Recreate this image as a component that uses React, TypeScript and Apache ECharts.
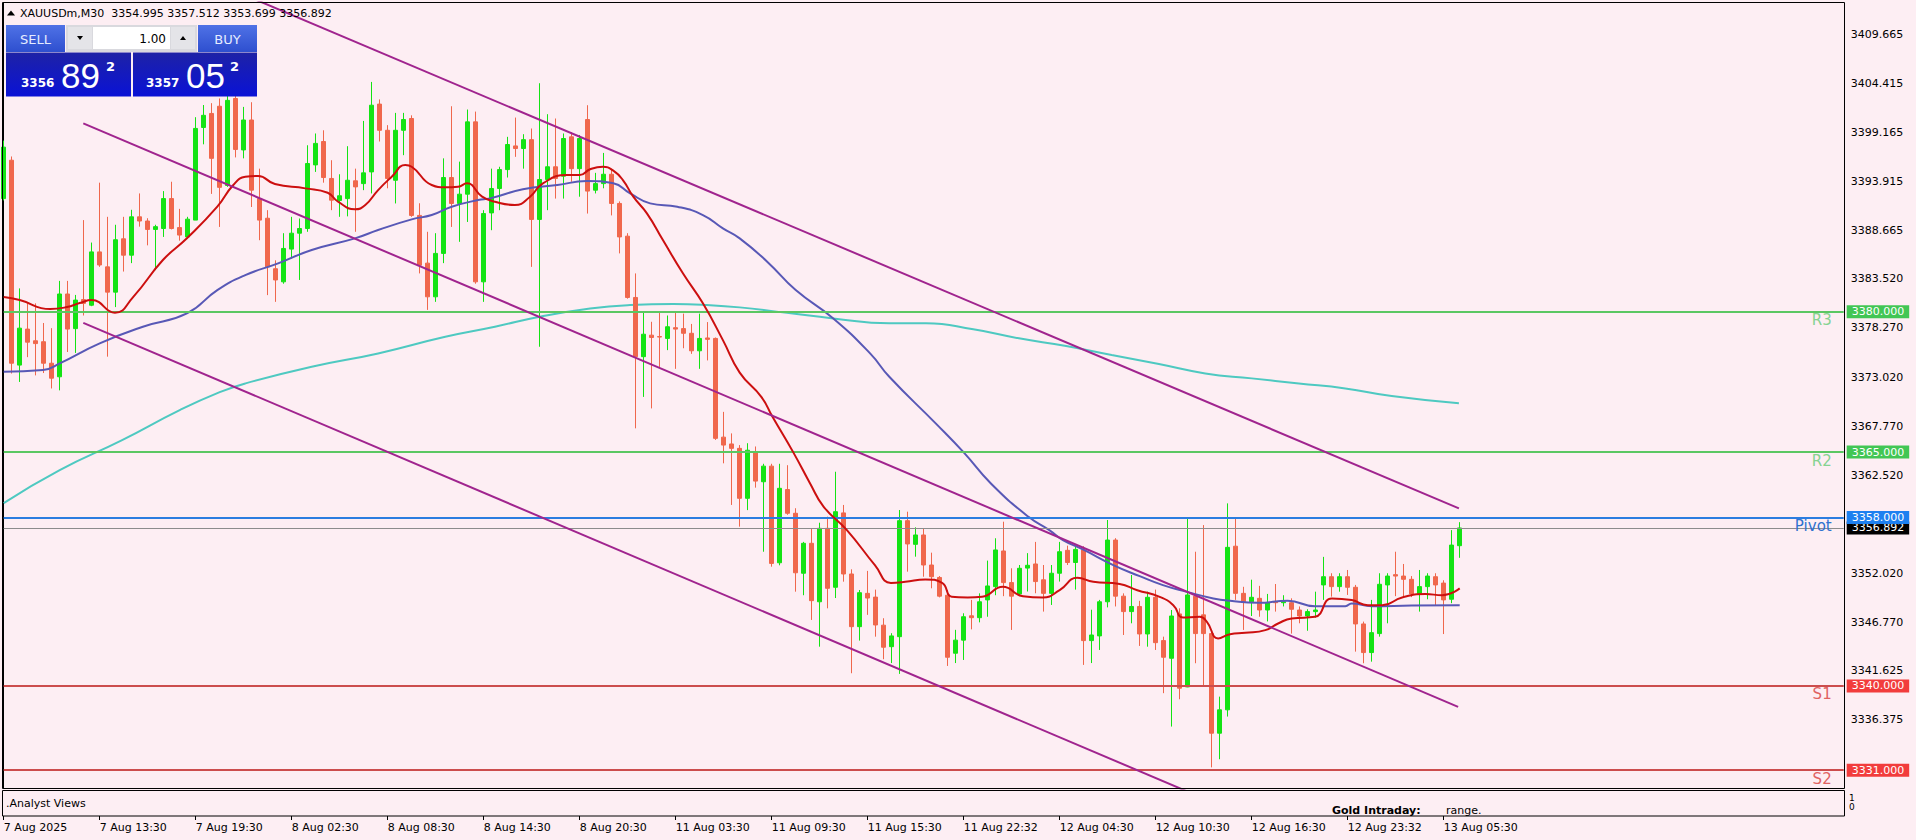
import React, { useEffect, useRef } from "react";
import * as echarts from "echarts";

// ---------- data ----------
const timeLabels = [
  "7 Aug 2025", "7 Aug 13:30", "7 Aug 19:30", "8 Aug 02:30", "8 Aug 08:30", "8 Aug 14:30",
  "8 Aug 20:30", "11 Aug 03:30", "11 Aug 09:30", "11 Aug 15:30", "11 Aug 22:32", "12 Aug 04:30",
  "12 Aug 10:30", "12 Aug 16:30", "12 Aug 23:32", "13 Aug 05:30",
];
const BARS_PER_LABEL = 12;
const TOTAL_SLOTS = 231;

const opens = [
  3392.1, 3396.2, 3374.3, 3378.15, 3376.9, 3376.8, 3374.5, 3373.05, 3381.9, 3378.2,
  3381.3, 3380.7, 3386.4, 3384.8, 3382.1, 3387.8, 3386.05, 3390.15, 3389.7, 3388.8,
  3388.9, 3392.1, 3389.0, 3388.0, 3389.8, 3399.7, 3401.2, 3401.97, 3393.5, 3402.8,
  3397.3, 3400.5, 3392.1, 3390.0, 3384.6, 3383.2, 3386.7, 3388.4, 3388.9, 3395.7,
  3398.2, 3394.25, 3391.9, 3392.1, 3394.0, 3393.7, 3394.95, 3402.2, 3399.4, 3394.06,
  3399.4, 3400.66, 3390.3, 3385.2, 3381.6, 3386.24, 3394.35, 3391.58, 3392.57, 3400.3,
  3383.2, 3390.57, 3393.18, 3395.2, 3397.73, 3397.45, 3398.4, 3389.87, 3394.14, 3395.5,
  3394.5, 3398.7, 3395.3, 3400.55, 3393.0, 3393.7, 3394.7, 3391.58, 3388.08, 3381.53,
  3375.2, 3377.5, 3377.35, 3377.15, 3378.3, 3378.2, 3377.7, 3375.83, 3377.2, 3377.15,
  3366.6, 3365.87, 3365.4, 3360.06, 3364.9, 3361.83, 3363.5, 3353.17, 3361.0, 3358.46,
  3352.05, 3355.25, 3349.0, 3356.85, 3350.55, 3358.5, 3351.97, 3346.34, 3349.9, 3349.5,
  3346.5, 3344.2, 3345.27, 3357.67, 3355.14, 3356.14, 3352.93, 3351.6, 3349.7, 3343.5,
  3344.9, 3347.5, 3347.3, 3349.2, 3350.62, 3354.43, 3351.05, 3349.84, 3352.6, 3353.04,
  3351.35, 3349.9, 3352.05, 3354.5, 3353.2, 3354.54, 3344.85, 3345.35, 3349.0, 3355.6,
  3349.6, 3347.95, 3348.5, 3345.56, 3349.48, 3344.85, 3342.96, 3347.7, 3339.9, 3349.6,
  3347.6, 3345.6, 3334.95, 3337.45, 3354.94, 3349.9, 3349.0, 3349.37, 3348.12, 3349.0,
  3348.9, 3348.9, 3348.12, 3347.48, 3347.95, 3350.8, 3351.68, 3350.62, 3351.68, 3350.55,
  3346.63, 3343.57, 3345.6, 3350.8, 3351.9, 3351.75, 3351.4, 3349.84, 3350.62, 3351.68,
  3351.0, 3349.27, 3354.995,
];
const highs = [
  3398.3, 3396.6, 3382.5, 3380.9, 3380.9, 3378.8, 3378.25, 3383.3, 3383.3, 3381.8,
  3389.8, 3387.4, 3393.8, 3390.15, 3389.3, 3390.15, 3390.9, 3392.65, 3390.0, 3389.3,
  3392.9, 3393.9, 3391.0, 3390.15, 3400.8, 3402.1, 3402.3, 3402.8, 3403.5, 3403.6,
  3401.9, 3402.4, 3395.3, 3390.86, 3385.5, 3388.4, 3390.15, 3389.97, 3397.8, 3399.06,
  3399.4, 3396.2, 3394.7, 3397.7, 3395.3, 3400.4, 3404.57, 3402.7, 3399.95, 3401.26,
  3401.26, 3401.0, 3391.6, 3388.55, 3388.4, 3396.4, 3401.97, 3396.05, 3401.62, 3401.4,
  3390.86, 3395.3, 3395.5, 3398.7, 3400.76, 3398.98, 3399.59, 3404.43, 3401.12, 3400.66,
  3399.06, 3399.2, 3398.9, 3402.08, 3394.85, 3396.98, 3395.3, 3391.8, 3388.4, 3384.1,
  3380.0, 3378.93, 3380.0, 3379.6, 3379.9, 3379.8, 3378.7, 3379.8, 3378.9, 3377.25,
  3369.3, 3367.0, 3365.75, 3365.95, 3365.6, 3363.75, 3363.75, 3363.75, 3363.6, 3359.0,
  3355.4, 3356.85, 3357.45, 3358.1, 3362.9, 3359.35, 3352.47, 3350.26, 3352.3, 3350.3,
  3347.24, 3345.64, 3358.81, 3358.63, 3356.96, 3356.85, 3354.25, 3351.75, 3350.26, 3346.0,
  3347.77, 3349.2, 3349.9, 3353.4, 3355.79, 3357.56, 3352.58, 3352.93, 3354.2, 3355.4,
  3352.93, 3352.93, 3355.4, 3355.0, 3354.9, 3354.94, 3348.15, 3349.2, 3357.74, 3355.8,
  3349.9, 3351.86, 3349.1, 3350.08, 3350.3, 3345.27, 3348.12, 3348.3, 3357.92, 3354.35,
  3357.2, 3345.8, 3338.86, 3359.52, 3357.92, 3350.6, 3351.36, 3350.7, 3349.84, 3350.9,
  3349.7, 3349.37, 3348.5, 3348.2, 3350.08, 3353.8, 3352.05, 3352.05, 3352.4, 3350.8,
  3346.88, 3349.2, 3352.05, 3352.05, 3354.35, 3353.04, 3351.75, 3352.4, 3352.05, 3352.05,
  3351.3, 3356.66, 3357.512,
];
const lows = [
  3391.9, 3373.4, 3372.5, 3375.15, 3373.2, 3373.45, 3371.8, 3371.6, 3375.7, 3375.6,
  3379.6, 3380.6, 3384.8, 3375.2, 3380.5, 3384.3, 3385.2, 3389.1, 3387.1, 3384.45,
  3388.0, 3388.8, 3387.6, 3387.85, 3389.8, 3397.9, 3392.6, 3389.07, 3393.35, 3396.5,
  3396.4, 3391.2, 3387.65, 3381.78, 3381.06, 3383.0, 3385.7, 3383.4, 3388.55, 3394.95,
  3393.8, 3390.86, 3390.15, 3390.2, 3388.55, 3393.0, 3392.65, 3398.2, 3393.2, 3391.58,
  3396.74, 3390.15, 3384.1, 3380.2, 3381.06, 3385.2, 3389.07, 3387.48, 3389.6, 3383.0,
  3381.06, 3388.72, 3390.86, 3394.35, 3396.56, 3395.3, 3384.8, 3376.26, 3390.86, 3392.1,
  3392.1, 3393.9, 3392.3, 3390.5, 3392.65, 3393.2, 3390.3, 3386.24, 3381.4, 3367.54,
  3370.9, 3369.67, 3374.1, 3375.9, 3373.9, 3376.1, 3375.5, 3373.9, 3374.8, 3366.3,
  3363.8, 3359.35, 3357.03, 3358.8, 3361.2, 3354.35, 3352.75, 3352.9, 3358.3, 3350.08,
  3349.7, 3347.06, 3344.2, 3348.3, 3349.4, 3351.15, 3341.36, 3344.85, 3347.6, 3345.27,
  3342.86, 3342.45, 3341.29, 3352.22, 3353.82, 3351.68, 3350.44, 3349.47, 3342.14, 3342.45,
  3342.78, 3346.05, 3346.8, 3347.4, 3349.7, 3349.6, 3345.99, 3349.63, 3350.1, 3349.91,
  3347.95, 3348.66, 3351.16, 3352.93, 3350.3, 3342.25, 3342.45, 3343.85, 3348.4, 3348.5,
  3345.45, 3346.7, 3344.28, 3344.2, 3343.85, 3339.23, 3335.66, 3338.58, 3339.87, 3342.43,
  3339.93, 3331.3, 3332.17, 3336.73, 3349.2, 3345.99, 3347.48, 3347.4, 3346.9, 3347.95,
  3348.5, 3345.6, 3346.7, 3345.9, 3347.3, 3349.2, 3349.55, 3350.08, 3349.73, 3343.67,
  3342.43, 3342.6, 3345.27, 3346.7, 3349.6, 3349.6, 3349.5, 3347.95, 3349.27, 3348.55,
  3345.55, 3348.85, 3353.699,
];
const closes = [
  3397.6, 3374.5, 3378.25, 3376.75, 3376.6, 3374.5, 3372.9, 3381.9, 3378.15, 3381.25,
  3380.9, 3386.4, 3385.0, 3382.1, 3387.7, 3386.05, 3390.15, 3389.7, 3388.8, 3389.1,
  3392.1, 3388.9, 3388.2, 3389.9, 3399.6, 3401.0, 3396.4, 3393.3, 3402.6, 3397.35,
  3400.5, 3393.0, 3389.8, 3384.8, 3383.4, 3386.77, 3388.4, 3388.9, 3395.85, 3398.0,
  3394.35, 3391.93, 3392.4, 3394.06, 3393.35, 3394.85, 3402.08, 3399.4, 3394.25, 3399.4,
  3400.55, 3390.3, 3384.98, 3381.6, 3386.24, 3394.35, 3391.58, 3392.57, 3400.3, 3383.2,
  3390.5, 3393.18, 3395.2, 3397.88, 3397.45, 3398.4, 3389.87, 3394.14, 3395.5, 3394.25,
  3398.52, 3395.3, 3398.52, 3392.9, 3393.7, 3394.7, 3391.58, 3388.0, 3381.53, 3375.2,
  3377.6, 3377.25, 3377.3, 3378.4, 3378.15, 3377.7, 3375.83, 3377.15, 3377.05, 3366.47,
  3365.75, 3365.4, 3360.06, 3365.2, 3361.9, 3363.5, 3353.1, 3361.13, 3358.46, 3352.1,
  3355.25, 3349.12, 3356.85, 3350.44, 3358.63, 3351.97, 3346.34, 3349.97, 3349.4, 3346.52,
  3344.14, 3345.35, 3357.67, 3355.18, 3356.14, 3352.93, 3351.68, 3349.6, 3343.07, 3344.9,
  3347.4, 3347.3, 3349.0, 3350.69, 3354.54, 3351.05, 3349.6, 3352.58, 3352.9, 3351.16,
  3349.9, 3352.05, 3354.35, 3353.2, 3354.6, 3344.85, 3345.45, 3349.0, 3355.6, 3349.6,
  3347.95, 3348.5, 3345.56, 3349.48, 3344.63, 3343.07, 3347.48, 3339.76, 3349.73, 3345.6,
  3345.6, 3334.95, 3337.45, 3354.82, 3349.9, 3349.0, 3349.48, 3348.12, 3348.9, 3348.9,
  3349.0, 3348.2, 3347.48, 3347.95, 3348.12, 3351.68, 3350.62, 3351.68, 3350.55, 3346.63,
  3343.57, 3345.7, 3350.87, 3351.75, 3351.75, 3351.4, 3349.84, 3350.62, 3351.75, 3350.8,
  3349.2, 3355.06, 3356.892,
];

// moving averages: [bar index, price]
const maFast = [
  [0, 3381.57], [2.0, 3381.25], [5.8, 3380.29], [7.9, 3380.5], [9.5, 3380.93], [11.0, 3381.25],
  [13.9, 3379.89], [16.2, 3381.6], [19.9, 3385.53], [22.9, 3387.85], [26.7, 3391.23], [28.7, 3393.55],
  [30.2, 3394.43], [31.8, 3394.51], [33.9, 3393.65], [37.7, 3393.19], [40.5, 3392.72], [41.8, 3391.76],
  [43.9, 3390.95], [45.2, 3391.41], [46.8, 3393.01], [48.5, 3394.43], [50.2, 3395.68], [51.0, 3395.5],
  [53.5, 3393.55], [55.2, 3393.3], [56.8, 3393.36], [57.9, 3393.73], [59.8, 3392.3], [61.4, 3391.76],
  [63.9, 3391.41], [65.8, 3392.3], [67.4, 3393.73], [70.4, 3394.62], [72.0, 3394.62], [73.3, 3395.23],
  [74.9, 3395.5], [76.2, 3395.08], [77.4, 3394.08], [78.7, 3392.3], [80.4, 3390.52], [82.4, 3387.67],
  [84.9, 3384.11], [87.4, 3380.9], [89.9, 3376.97], [92.0, 3373.5], [94.7, 3370.91], [96.1, 3368.77],
  [98.7, 3364.97], [100.8, 3361.65], [102.5, 3359.15], [105.4, 3356.66], [108.9, 3352.92], [110.9, 3351.02],
  [112.7, 3351.13], [115.2, 3351.39], [117.3, 3351.02], [118.5, 3349.53], [120.5, 3349.46], [122.3, 3349.53],
  [124.9, 3350.6], [127.4, 3349.6], [129.9, 3349.46], [132.0, 3350.24], [134.2, 3351.56], [136.2, 3351.13],
  [139.5, 3350.89], [141.7, 3350.24], [144.5, 3349.53], [146.2, 3348.64], [147.4, 3347.33], [149.5, 3347.39],
  [150.4, 3346.86], [151.8, 3345.08], [153.3, 3345.54], [155.2, 3345.68], [157.7, 3345.97], [159.3, 3346.68],
  [161.0, 3347.22], [163.9, 3347.39], [166.0, 3349.36], [168.5, 3349.18], [170.5, 3348.64], [172.3, 3348.64],
  [174.8, 3349.46], [177.7, 3349.82], [179.8, 3349.71], [182, 3350.43],
];
const maMid = [
  [0, 3373.58], [4.9, 3373.77], [7.0, 3374.48], [12.0, 3376.62], [17.4, 3378.4], [22.9, 3379.83],
  [26.7, 3382.32], [30.2, 3383.92], [34.3, 3385.17], [38.5, 3386.6], [43.9, 3387.85], [46.8, 3388.74],
  [51.0, 3389.88], [53.5, 3390.34], [56.0, 3391.23], [59.3, 3391.94], [60.8, 3392.12], [64.9, 3393.09],
  [69.2, 3393.55], [72.9, 3393.97], [76.2, 3393.73], [78.3, 3392.66], [80.8, 3391.59], [84.2, 3391.23],
  [87.4, 3390.34], [89.9, 3388.92], [92.0, 3387.85], [95.5, 3385.3], [99.0, 3382.32], [103.7, 3379.29],
  [108.3, 3375.55], [110.7, 3373.05], [116.5, 3368.07], [120.0, 3364.97], [123.4, 3361.65], [128.1, 3358.08],
  [130.7, 3356.66], [132.4, 3355.59], [134.9, 3354.6], [138.7, 3352.92], [142.0, 3351.74], [144.9, 3350.78],
  [147.9, 3350.06], [151.2, 3349.36], [153.3, 3349.1], [156.8, 3348.89], [160.5, 3349.1], [163.9, 3348.53],
  [167.7, 3348.53], [168.5, 3348.82], [171.0, 3348.53], [176.0, 3348.6], [182, 3348.64],
];
const maSlow = [
  [0, 3359.55], [7.0, 3363.07], [14.8, 3366.28], [22.0, 3369.49], [27.0, 3371.41], [30.2, 3372.34],
  [38.5, 3374.12], [46.8, 3375.55], [55.2, 3377.33], [61.4, 3378.4], [67.0, 3379.47], [73.3, 3380.36],
  [78.3, 3380.72], [83.7, 3380.82], [87.9, 3380.72], [92.0, 3380.47], [97.9, 3379.89], [103.7, 3379.29],
  [110.7, 3378.76], [115.3, 3378.76], [121.2, 3378.12], [126.9, 3377.16], [132.8, 3376.33], [138.5, 3375.37],
  [144.4, 3374.41], [150.2, 3373.41], [156.0, 3372.88], [161.9, 3372.34], [167.7, 3371.81], [173.5, 3370.99],
  [181.9, 3370.21],
];

// channel trend lines: [bar index, price]
const channelUpper = [[25, 3415.71], [181.9, 3358.98]];
const channelMiddle = [[9.95, 3400.14], [181.8, 3337.77]];
const channelLower = [[9.95, 3378.82], [150, 3327.98]];

const levelNames = ["R3", "R2", "Pivot", "S1", "S2"];
const levelValues = [3380, 3365, 3358, 3340, 3331];

const priceTicks = [
  3409.665, 3404.415, 3399.165, 3393.915, 3388.665, 3383.52, 3378.27, 3373.02,
  3367.77, 3362.52, 3352.02, 3346.77, 3341.625, 3336.375,
];
const Y_MIN = 3329.04;
const Y_MAX = 3413.06;

const SYMBOL = "XAUUSDm,M30";
const BID = 3356.892;
const ASK = 3357.052;
const LOT = "1.00";

// ---------- styles ----------
const BG = "#fdeef3";
const FONT = "DejaVu Sans";
const UP = "#14e314";
const DOWN = "#f0674c";
const levelLine = ["#5bc762", "#5bc762", "#2b7de0", "#cc4d4d", "#cc4d4d"];
const levelText = ["#86d391", "#86d391", "#2f72d0", "#e06262", "#e06262"];
const levelBox = ["#42c654", "#42c654", "#1d80f0", "#f23c3c", "#f23c3c"];

const txt = (x: number, y: number, text: string, size: number, opts: any = {}) => ({
  type: "text",
  z: 60,
  silent: true,
  style: {
    x,
    y,
    text,
    fontSize: size,
    fontFamily: opts.family || FONT,
    fontWeight: opts.weight || "normal",
    fill: opts.fill || "#000",
    align: opts.align || "left",
    verticalAlign: "middle",
  },
});

function buildOption() {
  const last = opens.length - 1;
  const categories = Array.from({ length: TOTAL_SLOTS }, (_, i) => "b" + i);
  const candles = opens.map((o, i) => [o, closes[i], lows[i], highs[i]]);
  const isTick = (i: number) =>
    i % BARS_PER_LABEL === 0 && i / BARS_PER_LABEL < timeLabels.length;

  const boxLabel = (text: string, bg: string) => ({
    show: true,
    position: "end",
    formatter: text,
    color: "#fff",
    backgroundColor: bg,
    padding: [1, 5, 0, 5],
    lineHeight: 12,
    fontSize: 11,
    fontFamily: FONT,
    distance: 3,
  });

  const markData: any[] = [];
  levelValues.forEach((v, i) => {
    markData.push({
      yAxis: v,
      lineStyle: { color: levelLine[i], width: 2, type: "solid" },
      label: {
        show: true,
        position: "insideEndBottom",
        formatter: levelNames[i],
        color: levelText[i],
        fontSize: 15,
        fontFamily: FONT,
        distance: [12, 1],
      },
    });
  });
  // current price line with its box
  markData.push({
    yAxis: closes[last],
    lineStyle: { color: "#8c8c8c", width: 1, type: "solid" },
    label: boxLabel(closes[last].toFixed(3), "#000"),
  });
  // level price boxes (invisible line)
  levelValues.forEach((v, i) => {
    markData.push({
      yAxis: v,
      lineStyle: { color: "rgba(0,0,0,0)", width: 1, type: "solid" },
      label: boxLabel(v.toFixed(3), levelBox[i]),
    });
  });

  const bidStr = BID.toFixed(3);
  const askStr = ASK.toFixed(3);
  const split = (s: string) => ({ big: s.slice(0, 4), mid: s.slice(5, 7), small: s.slice(7) });
  const b = split(bidStr);
  const a = split(askStr);

  const grad = (c1: string, c2: string) =>
    new echarts.graphic.LinearGradient(0, 0, 0, 1, [
      { offset: 0, color: c1 },
      { offset: 1, color: c2 },
    ]);

  const header =
    SYMBOL +
    "  " +
    [opens[last], highs[last], lows[last], closes[last]].map((v) => v.toFixed(3)).join(" ");

  const graphic: any[] = [
    // frames
    { type: "rect", z: 50, silent: true, shape: { x: 2.5, y: 2.5, width: 1842, height: 786 }, style: { fill: "none", stroke: "#000", lineWidth: 1 } },
    { type: "rect", z: 50, silent: true, shape: { x: 2.5, y: 790.5, width: 1842, height: 25.5 }, style: { fill: "none", stroke: "#000", lineWidth: 1 } },
    // header
    { type: "polygon", z: 60, shape: { points: [[7, 15.5], [11, 10.5], [15, 15.5]] }, style: { fill: "#000" } },
    txt(20, 13, header, 11),
    // trade panel
    { type: "rect", z: 60, shape: { x: 6, y: 25, width: 59, height: 27 }, style: { fill: grad("#4f72e6", "#2e4fcf") } },
    { type: "rect", z: 60, shape: { x: 198, y: 25, width: 59, height: 27 }, style: { fill: grad("#4f72e6", "#2e4fcf") } },
    { type: "rect", z: 60, shape: { x: 66, y: 25, width: 131, height: 27 }, style: { fill: "#d9d9de" } },
    { type: "rect", z: 61, shape: { x: 68, y: 27, width: 24, height: 22 }, style: { fill: "#e4e4e8" } },
    { type: "rect", z: 61, shape: { x: 93, y: 27, width: 77, height: 22 }, style: { fill: "#ffffff" } },
    { type: "rect", z: 61, shape: { x: 171, y: 27, width: 24, height: 22 }, style: { fill: "#e4e4e8" } },
    { type: "polygon", z: 62, shape: { points: [[77, 36], [83, 36], [80, 40]] }, style: { fill: "#000" } },
    { type: "polygon", z: 62, shape: { points: [[180, 40], [186, 40], [183, 36]] }, style: { fill: "#000" } },
    { ...txt(35.5, 39, "SELL", 13, { fill: "#e6ecff", align: "center" }), z: 62 },
    { ...txt(227.5, 39, "BUY", 13, { fill: "#e6ecff", align: "center" }), z: 62 },
    { ...txt(166, 38.5, LOT, 12, { align: "right" }), z: 62 },
    { type: "rect", z: 60, shape: { x: 6, y: 52.5, width: 125, height: 44 }, style: { fill: grad("#1e22a6", "#0a12d6") } },
    { type: "rect", z: 60, shape: { x: 133, y: 52.5, width: 124, height: 44 }, style: { fill: grad("#1e22a6", "#0a12d6") } },
    { ...txt(21, 82.5, b.big, 12, { weight: "bold", fill: "#fff" }), z: 62 },
    { ...txt(61, 75, b.mid, 35, { family: "Liberation Sans", fill: "#fff" }), z: 62 },
    { ...txt(106, 66, b.small, 13, { weight: "bold", fill: "#fff" }), z: 62 },
    { ...txt(146, 82.5, a.big, 12, { weight: "bold", fill: "#fff" }), z: 62 },
    { ...txt(186, 75, a.mid, 35, { family: "Liberation Sans", fill: "#fff" }), z: 62 },
    { ...txt(230, 66, a.small, 13, { weight: "bold", fill: "#fff" }), z: 62 },
    // sub window
    txt(6, 803, ".Analyst Views", 11),
    txt(1332, 810, "Gold Intraday:", 11, { weight: "bold" }),
    txt(1446, 810, "range.", 11),
    txt(1849, 798, "1", 9),
    txt(1849, 807, "0", 9),
  ];

  const lineSeries = (data: number[][], color: string, smooth: number | boolean, z = 3) => ({
    type: "line",
    xAxisIndex: 1,
    yAxisIndex: 0,
    data,
    showSymbol: false,
    symbol: "none",
    smooth,
    z,
    silent: true,
    clip: true,
    lineStyle: { color, width: 2 },
  });

  return {
    animation: false,
    backgroundColor: BG,
    textStyle: { fontFamily: FONT },
    grid: [
      { left: 3.7, top: 2.5, width: 1840, height: 786 },
      { left: 3.7, top: 790.5, width: 1840, height: 25.5 },
    ],
    xAxis: [
      { type: "category", gridIndex: 0, data: categories, boundaryGap: false, show: false },
      { type: "value", gridIndex: 0, min: 0, max: TOTAL_SLOTS - 1, show: false },
      {
        type: "category",
        gridIndex: 1,
        data: categories,
        boundaryGap: false,
        axisLine: { show: false },
        axisTick: { show: true, interval: (i: number) => isTick(i), length: 4, lineStyle: { color: "#000" } },
        axisLabel: {
          show: true,
          interval: (i: number) => isTick(i),
          formatter: (_v: string, i: number) => (isTick(i) ? timeLabels[i / BARS_PER_LABEL] : ""),
          align: "left",
          margin: 6,
          color: "#000",
          fontSize: 11,
          fontFamily: FONT,
        },
        splitLine: { show: false },
      },
    ],
    yAxis: [
      {
        type: "value",
        gridIndex: 0,
        position: "right",
        min: Y_MIN,
        max: Y_MAX,
        axisLine: { show: true, lineStyle: { color: "#000" } },
        axisTick: { show: false },
        axisLabel: {
          show: true,
          customValues: priceTicks,
          formatter: (v: number) => v.toFixed(3),
          margin: 7,
          color: "#000",
          fontSize: 11,
          fontFamily: FONT,
        },
        splitLine: { show: false },
      },
      { type: "value", gridIndex: 1, min: 0, max: 1, show: false },
    ],
    graphic,
    series: [
      lineSeries(maSlow, "#4ec9c1", true, 2),
      {
        type: "candlestick",
        xAxisIndex: 0,
        yAxisIndex: 0,
        data: candles,
        barWidth: 4,
        z: 3,
        silent: true,
        itemStyle: {
          color: UP,
          color0: DOWN,
          borderColor: UP,
          borderColor0: DOWN,
          borderWidth: 1,
        },
        markLine: {
          symbol: ["none", "none"],
          silent: true,
          animation: false,
          data: markData,
        },
      },
      lineSeries(maMid, "#5858b6", true, 4),
      lineSeries(maFast, "#cc0f0f", true, 5),
      lineSeries(channelUpper, "#a0248e", false, 6),
      lineSeries(channelMiddle, "#a0248e", false, 6),
      lineSeries(channelLower, "#a0248e", false, 6),
    ],
  };
}

export default function App() {
  const ref = useRef<HTMLDivElement>(null);
  useEffect(() => {
    document.body.style.margin = "0";
    document.body.style.background = BG;
    const chart = echarts.init(ref.current as HTMLDivElement, null, { renderer: "svg" });
    chart.setOption(buildOption() as any);
    return () => chart.dispose();
  }, []);
  return <div ref={ref} style={{ width: 1916, height: 840, background: BG }} />;
}
